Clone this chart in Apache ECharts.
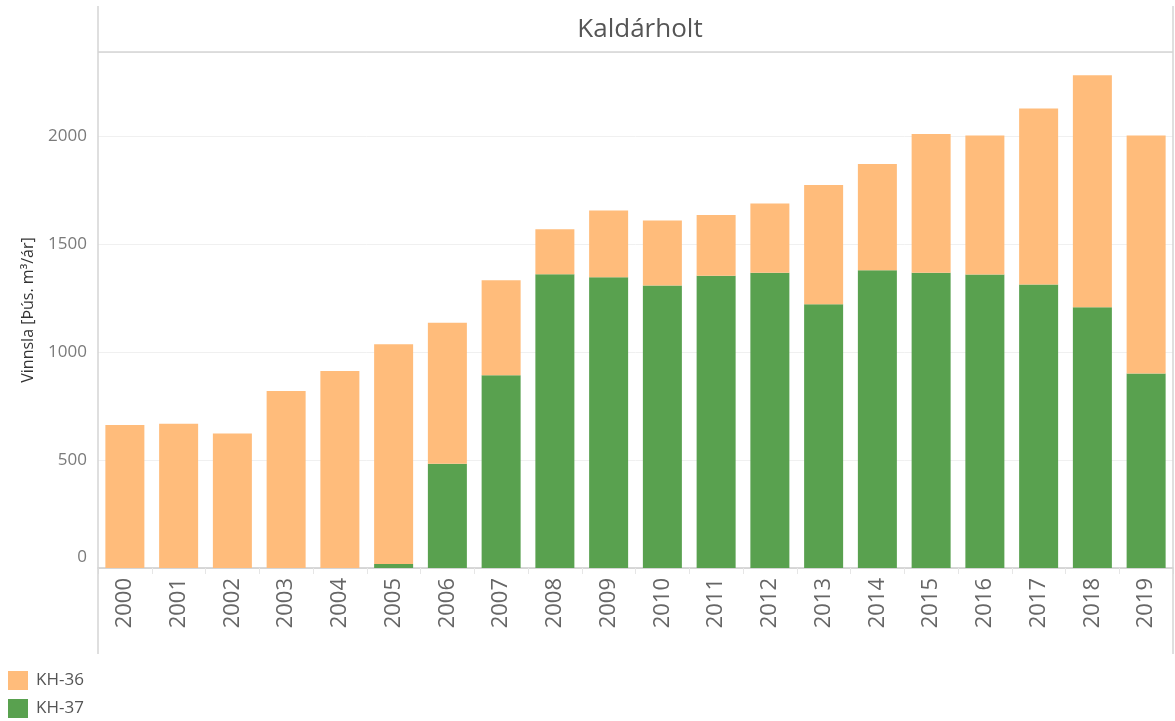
<!DOCTYPE html>
<html>
<head>
<meta charset="utf-8">
<script src="https://cdn.jsdelivr.net/npm/echarts@6/dist/echarts.min.js"></script>
<style>
  html, body { margin: 0; padding: 0; background: #fff; }
  #chart { width: 1175px; height: 721px; }
</style>
</head>
<body>
<div id="chart"></div>
<script>
const years = ['2000','2001','2002','2003','2004','2005','2006','2007','2008','2009','2010','2011','2012','2013','2014','2015','2016','2017','2018','2019'];
const kh36 = [662, 668, 622, 819, 912, 1018, 652, 440, 208, 309, 301, 282, 321, 551, 492, 643, 644, 815, 1073, 1102];
const kh37 = [0, 0, 0, 0, 0, 18, 483, 892, 1360, 1346, 1307, 1352, 1366, 1221, 1378, 1366, 1358, 1312, 1207, 900];
const yTicks = [0, 500, 1000, 1500, 2000];
const titleText = 'Kaldárholt';
const yName = 'Vinnsla [Þús. m³/ár]';

const FONT = '"Open Sans", sans-serif';
const chart = echarts.init(document.getElementById('chart'), null, { renderer: 'canvas' });

const legendCommon = {
  orient: 'vertical',
  left: 8,
  icon: 'rect',
  itemWidth: 20,
  itemHeight: 19,
  itemGap: 0,
  padding: 0,
  textStyle: { fontFamily: FONT, fontSize: 17, color: '#555555', padding: [0, 0, 0, 3] }
};

const option = {
  animation: false,
  backgroundColor: '#ffffff',
  textStyle: { fontFamily: FONT },
  title: {
    text: titleText,
    left: 635,
    top: 12,
    textAlign: 'center',
    textStyle: { fontFamily: FONT, fontSize: 26, fontWeight: 'normal', color: '#555555' }
  },
  legend: [
    Object.assign({}, legendCommon, { data: ['KH-36'], top: 671 }),
    Object.assign({}, legendCommon, { data: ['KH-37'], top: 699 })
  ],
  grid: { left: 98, right: 2, top: 52, bottom: 153, containLabel: false },
  xAxis: {
    type: 'category',
    data: years,
    axisLine: { show: true, lineStyle: { color: '#cccccc', width: 1.5 } },
    axisTick: { show: true, length: 6, lineStyle: { color: '#e6e6e6' } },
    axisLabel: {
      rotate: 90,
      margin: 10,
      fontFamily: FONT,
      fontSize: 22,
      color: '#666666'
    },
    splitLine: { show: false }
  },
  yAxis: {
    type: 'value',
    min: 0,
    max: 2388,
    interval: 500,
    name: yName,
    nameLocation: 'middle',
    nameRotate: 90,
    nameGap: 62,
    nameTextStyle: { fontFamily: FONT, fontSize: 16, color: '#333333' },
    axisLine: { show: false },
    axisTick: { show: false },
    axisLabel: {
      showMaxLabel: false,
      margin: 11,
      fontFamily: FONT,
      fontSize: 17,
      color: '#7a7a7a',
      formatter: function (v) {
        if (yTicks.indexOf(v) < 0) return '';
        return v === 0 ? '{z|0}' : String(v);
      },
      rich: {
        z: { fontFamily: FONT, fontSize: 17, color: '#7a7a7a', padding: [0, 0, 22, 0] }
      }
    },
    splitLine: { show: true, lineStyle: { color: '#f0f0f0', width: 1 } }
  },
  series: [
    {
      name: 'KH-37',
      type: 'bar',
      stack: 'total',
      data: kh37,
      barWidth: 39,
      itemStyle: { color: '#59a14f' }
    },
    {
      name: 'KH-36',
      type: 'bar',
      stack: 'total',
      data: kh36,
      barWidth: 39,
      itemStyle: { color: '#ffbc7b' }
    }
  ],
  graphic: [
    { type: 'line', shape: { x1: 98, y1: 6, x2: 98, y2: 654 }, style: { stroke: '#d4d4d4', lineWidth: 1.5 }, z: 100 },
    { type: 'line', shape: { x1: 1173, y1: 6, x2: 1173, y2: 654 }, style: { stroke: '#d4d4d4', lineWidth: 1.5 }, z: 100 },
    { type: 'line', shape: { x1: 98, y1: 52, x2: 1173, y2: 52 }, style: { stroke: '#d4d4d4', lineWidth: 1.5 }, z: 100 }
  ]
};

chart.setOption(option);
</script>
</body>
</html>
